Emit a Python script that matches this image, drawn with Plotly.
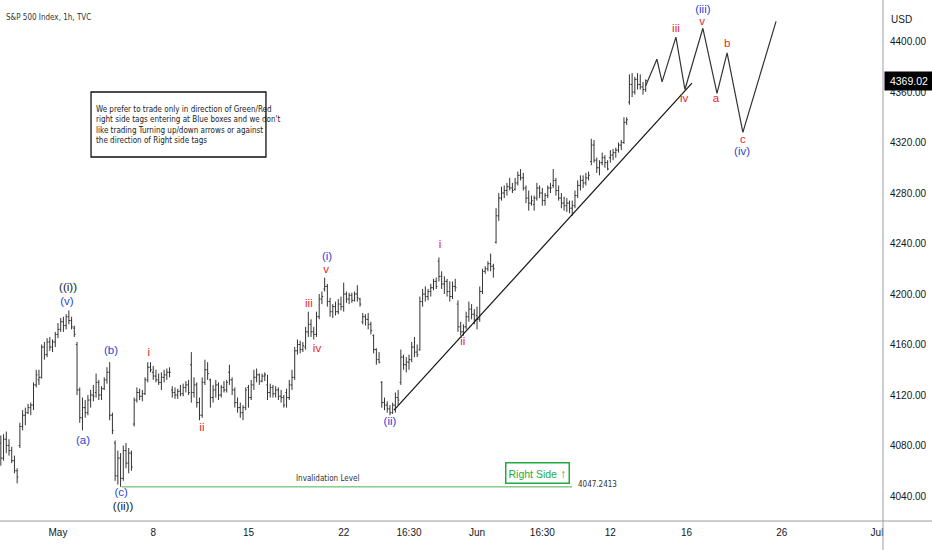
import plotly.graph_objects as go

# S&P 500, 1h bars (7 per session), Apr 26 -> Jun 13 2023, one line per session
opens = [
    4082, 4070, 4085, 4080, 4076, 4068, 4060,
    4080, 4095, 4104, 4106, 4110, 4112, 4128,
    4132, 4134, 4158, 4152, 4162, 4158, 4162,
    4168, 4172, 4178, 4175, 4182, 4179, 4173,
    4160, 4124, 4102, 4110, 4106, 4116, 4120,
    4122, 4130, 4120, 4125, 4132, 4138, 4104,
    4082, 4056, 4070, 4054, 4076, 4066, 4074,
    4097, 4116, 4122, 4119, 4121, 4132, 4142,
    4138, 4135, 4132, 4130, 4134, 4136, 4138,
    4124, 4122, 4120, 4123, 4121, 4126, 4128,
    4144, 4122, 4128, 4114, 4104, 4130, 4140,
    4132, 4118, 4124, 4128, 4120, 4126, 4124,
    4138, 4132, 4124, 4114, 4110, 4106, 4110,
    4126, 4118, 4128, 4134, 4136, 4131, 4135,
    4128, 4122, 4126, 4121, 4124, 4119, 4118,
    4122, 4118, 4128, 4134, 4155, 4160, 4156,
    4158, 4170, 4176, 4170, 4168, 4182, 4196,
    4204, 4206, 4194, 4186, 4190, 4186, 4192,
    4190, 4200, 4196, 4199, 4195, 4200, 4196,
    4178, 4182, 4180, 4176, 4167, 4156, 4148,
    4130, 4114, 4112, 4109, 4106, 4112, 4118,
    4130, 4150, 4144, 4146, 4148, 4158, 4154,
    4156, 4194, 4200, 4198, 4202, 4205, 4210,
    4226, 4214, 4208, 4210, 4202, 4198, 4206,
    4192, 4174, 4170, 4174, 4182, 4188, 4184,
    4183, 4180, 4202, 4218, 4220, 4224, 4222,
    4241, 4262, 4276, 4280, 4282, 4285, 4284,
    4283, 4288, 4294, 4292, 4284, 4276, 4272,
    4271, 4276, 4284, 4280, 4274, 4278, 4284,
    4286, 4290, 4282, 4276, 4272, 4270, 4272,
    4268, 4270, 4278, 4286, 4290, 4288, 4292,
    4305, 4318, 4306, 4300, 4304, 4308, 4304,
    4308, 4310, 4312, 4314, 4318, 4320, 4336,
    4352, 4366, 4360, 4370, 4366, 4364, 4362,
]
highs = [
    4088, 4089, 4091, 4085, 4079, 4072, 4062,
    4098, 4108, 4110, 4113, 4114, 4130, 4140,
    4140, 4160, 4162, 4165, 4166, 4164, 4170,
    4177, 4181, 4182, 4184, 4187, 4182, 4175,
    4162, 4126, 4118, 4116, 4120, 4124, 4128,
    4137, 4132, 4127, 4134, 4142, 4146, 4106,
    4084, 4076, 4074, 4080, 4082, 4078, 4076,
    4118, 4126, 4125, 4124, 4134, 4146, 4146,
    4143, 4140, 4137, 4138, 4140, 4141, 4142,
    4127, 4126, 4125, 4128, 4129, 4131, 4132,
    4154, 4134, 4130, 4118, 4134, 4148, 4146,
    4133, 4128, 4132, 4130, 4128, 4131, 4132,
    4144, 4134, 4126, 4118, 4114, 4112, 4126,
    4128, 4132, 4140, 4141, 4137, 4137, 4138,
    4136, 4129, 4128, 4127, 4126, 4124, 4120,
    4125, 4132, 4140, 4158, 4164, 4163, 4162,
    4174, 4186, 4180, 4174, 4186, 4200, 4202,
    4213, 4208, 4197, 4192, 4194, 4196, 4198,
    4209, 4202, 4201, 4201, 4202, 4207, 4197,
    4185, 4184, 4185, 4178, 4168, 4157, 4154,
    4131, 4118, 4115, 4112, 4114, 4122, 4124,
    4156, 4152, 4150, 4152, 4162, 4166, 4160,
    4198, 4204, 4206, 4204, 4208, 4212, 4213,
    4229, 4218, 4214, 4212, 4210, 4210, 4212,
    4195, 4178, 4176, 4186, 4194, 4192, 4188,
    4190, 4206, 4220, 4222, 4226, 4232, 4224,
    4268, 4280, 4285, 4286, 4288, 4292, 4288,
    4292, 4297, 4299, 4296, 4286, 4282, 4278,
    4278, 4288, 4286, 4284, 4280, 4286, 4288,
    4299, 4292, 4286, 4280, 4277, 4276, 4274,
    4274, 4282, 4290, 4294, 4294, 4296, 4297,
    4323, 4322, 4308, 4306, 4312, 4310, 4306,
    4314, 4315, 4316, 4320, 4322, 4340, 4340,
    4374, 4375, 4372, 4375, 4374, 4368, 4370,
]
lows = [
    4064, 4068, 4074, 4072, 4066, 4058, 4050,
    4078, 4092, 4096, 4105, 4104, 4108, 4126,
    4128, 4133, 4148, 4150, 4155, 4154, 4158,
    4165, 4170, 4170, 4172, 4176, 4172, 4166,
    4120, 4098, 4092, 4102, 4104, 4110, 4115,
    4118, 4116, 4116, 4124, 4129, 4100, 4089,
    4052, 4049, 4047.3, 4052, 4062, 4058, 4060,
    4095, 4114, 4116, 4115, 4120, 4130, 4138,
    4132, 4130, 4128, 4124, 4130, 4132, 4134,
    4118, 4117, 4117, 4119, 4119, 4122, 4120,
    4114, 4118, 4110, 4100, 4102, 4128, 4132,
    4110, 4114, 4118, 4116, 4118, 4122, 4122,
    4128, 4120, 4110, 4106, 4102, 4100, 4108,
    4110, 4116, 4124, 4130, 4128, 4130, 4131,
    4116, 4118, 4118, 4118, 4116, 4114, 4110,
    4110, 4116, 4124, 4132, 4152, 4153, 4154,
    4156, 4166, 4166, 4164, 4166, 4180, 4192,
    4202, 4190, 4182, 4181, 4183, 4184, 4187,
    4186, 4193, 4192, 4193, 4194, 4194, 4190,
    4176, 4175, 4172, 4168, 4153, 4144, 4145,
    4110, 4108, 4106, 4104, 4105, 4106, 4112,
    4128, 4140, 4138, 4140, 4146, 4150, 4150,
    4155, 4190, 4194, 4195, 4198, 4203, 4204,
    4210, 4204, 4200, 4198, 4194, 4196, 4202,
    4170, 4167, 4167, 4172, 4178, 4180, 4176,
    4172, 4178, 4200, 4216, 4218, 4218, 4213,
    4240, 4258, 4274, 4276, 4278, 4282, 4280,
    4282, 4286, 4290, 4282, 4272, 4266, 4270,
    4266, 4274, 4276, 4270, 4270, 4276, 4280,
    4284, 4278, 4274, 4268, 4266, 4265, 4264,
    4262, 4268, 4276, 4282, 4284, 4286, 4290,
    4302, 4304, 4296, 4294, 4302, 4300, 4298,
    4304, 4306, 4308, 4312, 4314, 4319, 4334,
    4350, 4356, 4358, 4362, 4362, 4358, 4360,
]
closes = [
    4070, 4085, 4080, 4076, 4068, 4060, 4055,
    4095, 4104, 4106, 4110, 4112, 4128, 4136,
    4134, 4158, 4152, 4162, 4158, 4162, 4168,
    4172, 4178, 4175, 4182, 4179, 4174, 4168,
    4124, 4102, 4110, 4106, 4116, 4120, 4119,
    4130, 4120, 4125, 4132, 4138, 4104, 4092,
    4056, 4070, 4054, 4076, 4066, 4074, 4063,
    4116, 4122, 4119, 4121, 4132, 4142, 4140,
    4135, 4132, 4130, 4134, 4136, 4138, 4138,
    4122, 4120, 4123, 4121, 4126, 4128, 4122,
    4122, 4128, 4114, 4104, 4130, 4140, 4137,
    4118, 4124, 4128, 4120, 4126, 4124, 4130,
    4132, 4124, 4114, 4110, 4106, 4110, 4124,
    4118, 4128, 4134, 4136, 4131, 4135, 4136,
    4122, 4126, 4121, 4124, 4119, 4118, 4112,
    4118, 4128, 4134, 4155, 4160, 4156, 4159,
    4170, 4176, 4170, 4168, 4182, 4196, 4198,
    4206, 4194, 4186, 4190, 4186, 4192, 4190,
    4200, 4196, 4199, 4195, 4200, 4197, 4192,
    4182, 4180, 4176, 4171, 4156, 4148, 4146,
    4114, 4112, 4109, 4106, 4112, 4118, 4116,
    4150, 4144, 4146, 4148, 4158, 4154, 4152,
    4194, 4200, 4198, 4202, 4205, 4210, 4206,
    4214, 4208, 4210, 4202, 4198, 4206, 4205,
    4174, 4170, 4174, 4182, 4188, 4184, 4180,
    4180, 4202, 4218, 4220, 4224, 4222, 4220,
    4262, 4276, 4280, 4282, 4285, 4284, 4282,
    4288, 4294, 4292, 4284, 4276, 4272, 4274,
    4276, 4284, 4280, 4274, 4278, 4284, 4284,
    4290, 4282, 4276, 4272, 4270, 4272, 4268,
    4270, 4278, 4286, 4290, 4288, 4292, 4294,
    4318, 4306, 4300, 4304, 4308, 4304, 4299,
    4310, 4312, 4314, 4318, 4320, 4336, 4338,
    4366, 4360, 4370, 4366, 4364, 4362, 4369.02,
]
bars = list(range(len(closes)))

# time axis labels, positioned by bar number
tick_bars = [21, 56, 91, 126, 150, 175, 199, 224, 252, 287, 322]
tick_text = ["May", "8", "15", "22", "16:30", "Jun", "16:30", "12", "16", "26", "Jul"]
price_ticks = [4040, 4080, 4120, 4160, 4200, 4240, 4280, 4320, 4360, 4400]
last_price = 4369.02

# projected path drawn after the last bar
proj_x = [237, 241.1, 243.0, 248.1, 251.4, 258.0, 263.2, 266.9, 272.7, 284.9]
proj_y = [4365, 4386, 4368, 4403.5, 4362, 4410.5, 4359, 4391, 4328, 4416]

# trend line from (ii)
trend_x = [144.5, 254.0]
trend_y = [4108, 4367]

invalid_level = 4047.2413
invalid_x = [44.3, 209.9]

BLUE = "#2c45d2"
RED = "#e3262d"
BLACK = "#131722"
GREEN = "#22ab3c"

wave_text = ["((i))", "(v)", "(a)", "(b)", "(c)", "((ii))",
             "i", "ii", "iii", "iv", "v", "(i)", "(ii)", "i", "ii",
             "iii", "iv", "v", "(iii)", "a", "b", "c", "(iv)"]
wave_x = [24.7, 24.3, 30.2, 40.5, 44.2, 44.9,
          54.4, 73.9, 113.2, 116.2, 119.5, 119.9, 143.0, 161.4, 169.8,
          248.1, 251.1, 257.7, 258.0, 262.8, 266.9, 272.7, 272.4]
wave_y = [4204.7, 4193.6, 4083.6, 4154.8, 4042.4, 4031.3,
          4153.3, 4093.9, 4192.1, 4156.4, 4219.0, 4229.0, 4098.6, 4238.8, 4162.0,
          4409.9, 4354.4, 4415.6, 4425.2, 4354.4, 4398.0, 4322.0, 4312.4]
wave_color = [BLACK, BLUE, BLUE, BLUE, BLUE, BLACK,
              RED, RED, RED, RED, RED, BLUE, BLUE, RED, RED,
              RED, RED, RED, BLUE, RED, RED, RED, BLUE]

note = ("We prefer to trade only in direction of Green/Red<br>"
        "right side tags entering at Blue boxes and we don't<br>"
        "like trading Turning up/down arrows or against<br>"
        "the direction of Right side tags")

SANS = "Liberation Sans, Arial, sans-serif"
NARROW = "Liberation Sans Narrow, DejaVu Sans Condensed, sans-serif"

fig = go.Figure()

fig.add_trace(go.Ohlc(
    x=bars, open=opens, high=highs, low=lows, close=closes,
    increasing=dict(line=dict(color="#333333", width=1)),
    decreasing=dict(line=dict(color="#333333", width=1)),
    tickwidth=0.45, hoverinfo="skip",
))

fig.add_trace(go.Scatter(x=proj_x, y=proj_y, mode="lines",
                         line=dict(color="#333333", width=1.2), hoverinfo="skip"))
fig.add_trace(go.Scatter(x=trend_x, y=trend_y, mode="lines",
                         line=dict(color="#111111", width=1.2), hoverinfo="skip"))
fig.add_trace(go.Scatter(x=invalid_x, y=[invalid_level, invalid_level], mode="lines",
                         line=dict(color="#4caf50", width=1), hoverinfo="skip"))

fig.add_trace(go.Scatter(x=wave_x, y=wave_y, mode="text", text=wave_text,
                         textfont=dict(color=wave_color, size=11.5, family=SANS),
                         hoverinfo="skip"))

fig.add_annotation(x=119.9, y=4053.5, text="Invalidation Level", showarrow=False,
                   font=dict(size=8, color="#333333", family=NARROW))
fig.add_annotation(x=211.4, y=4049, xanchor="left", text="4047.2413", showarrow=False,
                   font=dict(size=8, color="#333333", family=NARROW))
fig.add_annotation(x=197.2, y=4058.6,
                   text="Right Side <span style='font-size:13px'><b>↑</b></span>",
                   showarrow=False, font=dict(size=10.5, color=GREEN, family=SANS),
                   bgcolor="white", bordercolor=GREEN, borderwidth=1.5, borderpad=2)

# chart header and note box
fig.add_annotation(xref="paper", yref="paper", x=0.004, y=0.979, xanchor="left",
                   text="S&P 500 Index, 1h, TVC", showarrow=False,
                   font=dict(size=8, color="#333333", family=NARROW))
fig.add_shape(type="rect", xref="paper", yref="paper", x0=0.1031, x1=0.3012,
              y0=0.6987, y1=0.8234, line=dict(color="#111111", width=1.3))
fig.add_annotation(xref="paper", yref="paper", x=0.1065, y=0.760, xanchor="left",
                   yanchor="middle", align="left", text=note, showarrow=False,
                   font=dict(size=8, color="#222222", family=NARROW))

# price scale extras
fig.add_annotation(xref="paper", yref="paper", x=1, xshift=6, y=0.977, xanchor="left",
                   text="USD", showarrow=False, font=dict(size=10, color=BLACK, family=SANS))
fig.add_annotation(xref="paper", yref="y", x=1, xshift=1, y=last_price, xanchor="left",
                   text="4369.02", showarrow=False, bgcolor="#000000", width=44, height=14,
                   borderpad=2, font=dict(size=10.5, color="white", family=SANS))

# axis borders, running out into the margins like the original
fig.add_shape(type="line", xref="paper", yref="paper", x0=1, x1=1, y0=-0.06, y1=1,
              line=dict(color="#9a9ea8", width=1))
fig.add_shape(type="line", xref="paper", yref="paper", x0=0, x1=1.06, y0=0, y1=0,
              line=dict(color="#9a9ea8", width=1))

fig.update_layout(
    width=932, height=550,
    margin=dict(l=0, r=49, t=0, b=29),
    paper_bgcolor="white", plot_bgcolor="white",
    showlegend=False,
    xaxis=dict(range=[-0.31, 324.2], tickvals=tick_bars, ticktext=tick_text,
               showgrid=False, zeroline=False, showline=False, ticks="",
               ticklabelstandoff=4, rangeslider=dict(visible=False),
               tickfont=dict(size=10, color=BLACK, family=SANS)),
    yaxis=dict(range=[4020.2, 4432.9], side="right", tickvals=price_ticks,
               tickformat=".2f", showgrid=False, zeroline=False, showline=False,
               ticks="", ticklabelstandoff=6,
               tickfont=dict(size=10, color=BLACK, family=SANS)),
)

# the page's default body margin would push the 932x550 figure off-window
fig.write_html("out.html", config={"displayModeBar": False},
               post_script="document.body.style.margin='0';")
